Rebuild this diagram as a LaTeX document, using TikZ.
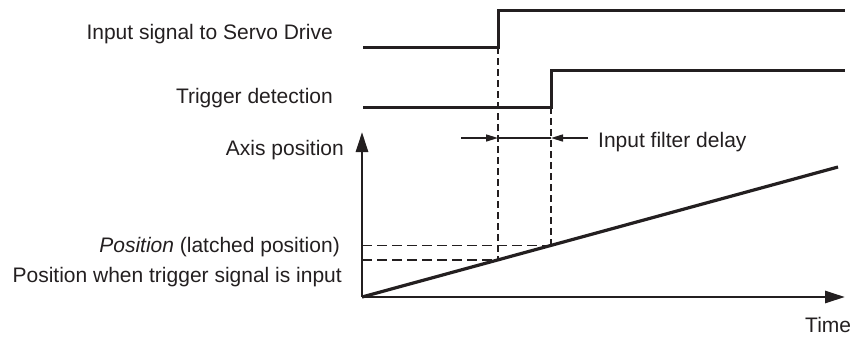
\documentclass[tikz,border=0pt]{standalone}
\usepackage{fontspec}
\setmainfont{Liberation Sans}
\usetikzlibrary{arrows.meta}
\definecolor{ink}{HTML}{231F20}
\tikzset{
  lbl/.style={inner sep=0pt, text=ink, font=\fontsize{21}{25}\selectfont},
  wave/.style={line width=3pt, ink},
  axisline/.style={line width=2.8pt, ink, -{Triangle[length=20pt,width=12pt]}},
  guide/.style={line width=1.5pt, ink, dash pattern=on 7pt off 4pt},
  level/.style={line width=1.5pt, ink, dash pattern=on 10pt off 5pt},
  dimline/.style={line width=1.5pt, ink, -{Triangle[length=12pt,width=7pt]}}
}
\begin{document}
\begin{tikzpicture}[x=1pt, y=-1pt]
        \useasboundingbox (0,0) rectangle (853,338);
        % define point
        \coordinate (O)  at (362, 297);
        \coordinate (Y)  at (362, 132);
        \coordinate (X)  at (845, 297);
        \coordinate (E)  at (838, 167);
        \coordinate (T1) at (498, 259.9);
        \coordinate (T2) at (551, 245.4);
        \coordinate (L1) at (362, 259.9);
        \coordinate (L2) at (362, 245.4);
        % signals
        \draw[wave] (363, 47) coordinate (s1a) -- (498, 47) coordinate (s1b)
                    -- (498, 10) -- (845, 10);
        \draw[wave] (363, 107) -- (551, 107) coordinate (s2b)
                    -- (551, 70) -- (845, 70);
        % labels
        \node[lbl, anchor=base east] (sig1) at (333, 39) {Input signal to Servo Drive};
        \node[lbl, anchor=base east] (sig2) at (333, 103) {Trigger detection};
        \node[lbl, anchor=base east] (axpos) at (344, 155) {Axis position};
        \node[lbl, anchor=base east] (latch) at (340, 252) {\textit{Position} (latched position)};
        \node[lbl, anchor=base east] (trig) at (342, 282) {Position when trigger signal is input};
        \node[lbl, anchor=base west] (time) at (805, 332) {Time};
        \node[lbl, anchor=base west] (delay) at (598, 147) {Input filter delay};
        % guides
        \draw[guide] (s1b) -- (T1);
        \draw[guide] (s2b) -- (T2);
        \draw[level] (L1) -- (T1);
        \draw[level] (L2) -- (T2);
        % filter delay
        \coordinate (D1) at (498, 138);
        \coordinate (D2) at (551, 138);
        \draw[dimline] (461, 138) -- (D1);
        \draw[dimline] (588, 138) -- (D2);
        \draw[line width=1.5pt, ink] (D1) -- (D2);
        % axes
        \draw[axisline] (O) -- (Y);
        \draw[axisline] (O) -- (X);
        \draw[line width=3.2pt, ink] (O) -- (E);
    \end{tikzpicture}
\end{document}
